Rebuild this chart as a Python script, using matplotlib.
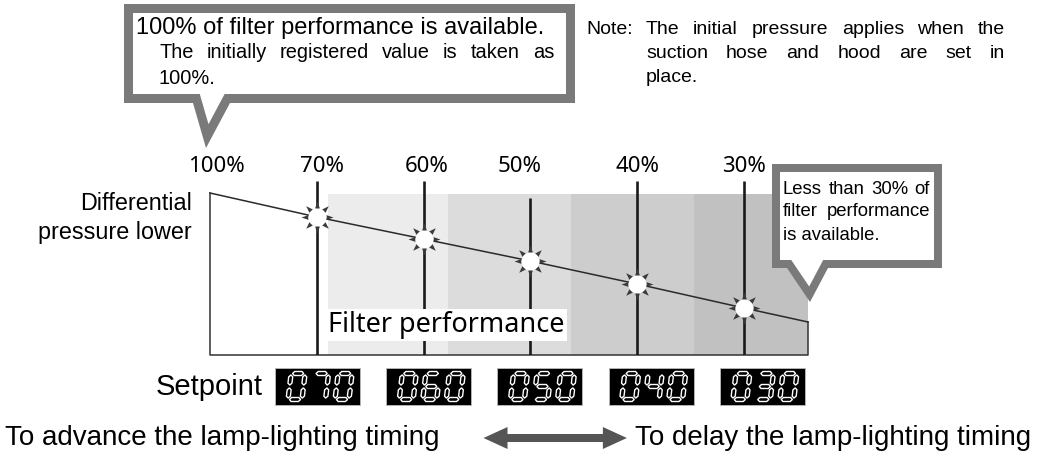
import numpy as np
import matplotlib
matplotlib.use("Agg")
import matplotlib.pyplot as plt
from matplotlib.patches import Rectangle, Polygon
from matplotlib.path import Path

# values
levels = ["100%", "70%", "60%", "50%", "40%", "30%"]
line_height = [162, 138, 116, 94, 71, 47]   # pressure line at each level
end_height = 33
end_pos = 5.6
mark_top = [174, 174, 157, 174, 174]        # tops of the 70%..30% marks
band_edges = [1.105, 2.228, 3.38, 4.53, 5.6]
band_top = 161
setpoints = ["070", "060", "050", "040", "030"]

band_colors = ["#ececec", "#dcdcdc", "#cdcdcd", "#c1c1c1"]
GRAY = "#7a7a7a"
ARIAL = "Liberation Sans"
SEGOE = "Noto Sans"

W, H = 1037, 454
fig = plt.figure(figsize=(W / 100, H / 100), dpi=100)

# chart: x = level index, y = differential pressure (arbitrary units)
ax = fig.add_axes([210 / W, (H - 355) / H, 598 / W, 174 / H], zorder=1)
ax.set_xlim(0, end_pos)
ax.set_ylim(0, 174)
ax.axis("off")

# overlay in pixel units for callouts and captions
ov = fig.add_axes([0, 0, 1, 1], zorder=2)
ov.set_xlim(0, W)
ov.set_ylim(H, 0)
ov.axis("off")

for x0, x1, c in zip(band_edges[:-1], band_edges[1:], band_colors):
    ax.add_patch(Rectangle((x0, 0), x1 - x0, band_top, fc=c, ec="none", zorder=1))

xs = list(range(len(levels))) + [end_pos]
ys = line_height + [end_height]
ax.plot([0, 0, end_pos, end_pos], [line_height[0], 0, 0, end_height],
        color="#333333", lw=1.1, zorder=2, clip_on=False)
ax.plot(xs, ys, color="#2a2a2a", lw=1.1, zorder=3, clip_on=False)

idx = np.arange(1, len(levels))
ax.vlines(idx, 0, mark_top, color="#1a1a1a", lw=1.9, zorder=4)


def burst():
    verts, codes = [], []
    for k in range(8):
        a = np.deg2rad(45 * k)
        for r, da in ((1.0, 0), (0.58, 15), (0.58, -15)):
            b = a + np.deg2rad(da)
            verts.append((r * np.cos(b), r * np.sin(b)))
        verts.append((0, 0))
        codes += [Path.MOVETO, Path.LINETO, Path.LINETO, Path.CLOSEPOLY]
    return Path(verts, codes)


ax.plot(idx, line_height[1:], ls="none", marker=burst(), ms=23,
        color="#3a3a3a", mec="none", zorder=5)
ax.plot(idx, line_height[1:], ls="none", marker="o", ms=13,
        mfc="white", mec="none", zorder=6)

label_dx = [6, 5, 3, -11, 0, 0]
for i, (lab, dx) in enumerate(zip(levels, label_dx)):
    ax.annotate(lab, (i, 183), xytext=(dx * 0.72, 0), textcoords="offset points",
                ha="center", va="baseline", fontsize=16, family=SEGOE,
                annotation_clip=False)

renderer = fig.canvas.get_renderer()


def justify(line, x0, x1, y, **kw):
    words = line.split()
    objs = [ov.text(x0, y, w, va="center", ha="left", zorder=8, **kw) for w in words]
    widths = [o.get_window_extent(renderer).width for o in objs]
    gap = (x1 - x0 - sum(widths)) / max(len(words) - 1, 1)
    x = x0
    for o, wd in zip(objs, widths):
        o.set_x(x)
        x += wd + gap


def inner_tail(tail, th, ytop):
    a, b, c = (np.array(p, float) for p in tail)
    cen = (a + b + c) / 3

    def shift(p, q):
        d = (q - p) / np.linalg.norm(q - p)
        n = np.array([-d[1], d[0]])
        if np.dot(cen - p, n) < 0:
            n = -n
        return p + n * th, d

    pl, dl = shift(a, c)
    pr, dr = shift(b, c)
    s, _ = np.linalg.solve(np.array([dl, -dr]).T, pr - pl)
    tip = pl + s * dl
    left = pl + dl * (ytop - pl[1]) / dl[1]
    right = pr + dr * (ytop - pr[1]) / dr[1]
    return [left, right, tip]


def callout(box, tail, th):
    x0, y0, x1, y1 = box
    ov.add_patch(Rectangle((x0, y0), x1 - x0, y1 - y0, fc=GRAY, ec="none", zorder=5))
    ov.add_patch(Polygon(tail, closed=True, fc=GRAY, ec="none", zorder=5))
    ov.add_patch(Rectangle((x0 + th, y0 + th), x1 - x0 - 2 * th, y1 - y0 - 2 * th,
                           fc="white", ec="none", zorder=6))
    ov.add_patch(Polygon(inner_tail(tail, th, y1 - th), closed=True,
                         fc="white", ec="none", zorder=6))


# callout 1
callout((124, 4, 575, 103), [(193, 103), (230, 103), (206, 148)], 9)
ov.text(136, 28, "100% of filter performance is available.", va="center",
        fontsize=17, family=ARIAL, zorder=8)
justify("The initially registered value is taken as", 159, 554, 53,
        fontsize=14.4, family=ARIAL)
ov.text(159, 78, "100%.", va="center", fontsize=14.4, family=ARIAL, zorder=8)

# note
ov.text(586, 30, "Note:", va="center", fontsize=14, family=ARIAL)
justify("The initial pressure applies when the", 646, 1005, 30, fontsize=14, family=ARIAL)
justify("suction hose and hood are set in", 646, 1005, 53, fontsize=14, family=ARIAL)
ov.text(646, 78, "place.", va="center", fontsize=14, family=ARIAL)

# callout 2
callout((772, 164, 942, 268), [(787, 268), (828, 268), (810, 302)], 8)
justify("Less than 30% of", 783, 930, 189, fontsize=13.3, family=ARIAL)
justify("filter performance", 783, 930, 212, fontsize=13.3, family=ARIAL)
ov.text(783, 235, "is available.", va="center", fontsize=13.3, family=ARIAL, zorder=8)

# captions
ov.text(192, 204, "Differential", ha="right", va="center", fontsize=16.8, family=ARIAL)
ov.text(192, 232, "pressure lower", ha="right", va="center", fontsize=16.8, family=ARIAL)
ov.text(328, 332, "Filter performance", va="baseline", fontsize=19.5, family=SEGOE,
        zorder=8, bbox=dict(fc="white", ec="none", pad=1.5))

# setpoint displays
SEG = {"0": "abcdef", "3": "abcdg", "4": "bcfg", "5": "acdfg", "6": "acdefg", "7": "abc"}


def hexseg(p, q, t, gap=1.4):
    p = np.array(p, float)
    q = np.array(q, float)
    d = (q - p) / np.linalg.norm(q - p)
    n = np.array([-d[1], d[0]])
    p = p + d * gap
    q = q - d * gap
    h = t / 2
    return [p, p + d * h + n * h, q - d * h + n * h, q, q - d * h - n * h, p + d * h - n * h]


def digit(ch, x, y, w=14, h=26, t=4, slant=0.12):
    ends = {"a": ((0, h), (w, h)), "b": ((w, h), (w, h / 2)), "c": ((w, h / 2), (w, 0)),
            "d": ((0, 0), (w, 0)), "e": ((0, h / 2), (0, 0)), "f": ((0, h), (0, h / 2)),
            "g": ((0, h / 2), (w, h / 2))}
    for s in SEG[ch]:
        pts = hexseg(*ends[s], t)
        pts = [(x + u + slant * v, y + h - v) for u, v in pts]
        ov.add_patch(Polygon(pts, closed=True, fc="black", ec="white", lw=1.0, zorder=7))


ov.text(263, 387, "Setpoint", ha="right", va="center", fontsize=21, family=ARIAL)
for i, sp in enumerate(setpoints):
    bx = 275 + 111.2 * i
    ov.add_patch(Rectangle((bx, 368), 85, 37, fc="black", ec="#bbbbbb", lw=0.6, zorder=6))
    for j, ch in enumerate(sp):
        digit(ch, bx + 13 + 23.5 * j, 373.5)

# bottom row
t1 = ov.text(5, 438, "To advance the lamp-lighting timing", va="center",
             fontsize=20, family=ARIAL)
t2 = ov.text(1031, 438, "To delay the lamp-lighting timing", ha="right", va="center",
             fontsize=20, family=ARIAL)
e1 = t1.get_window_extent(renderer)
e2 = t2.get_window_extent(renderer)
a0, a1 = e1.x1 + 44, e2.x0 - 8
yc, hh, sh, hl = 438, 11, 4, 24
ov.add_patch(Polygon([(a0, yc), (a0 + hl, yc - hh), (a0 + hl, yc - sh), (a1 - hl, yc - sh),
                      (a1 - hl, yc - hh), (a1, yc), (a1 - hl, yc + hh), (a1 - hl, yc + sh),
                      (a0 + hl, yc + sh), (a0 + hl, yc + hh)],
                     closed=True, fc="#555555", ec="none", zorder=6))

fig.savefig("out.png", dpi=100)
